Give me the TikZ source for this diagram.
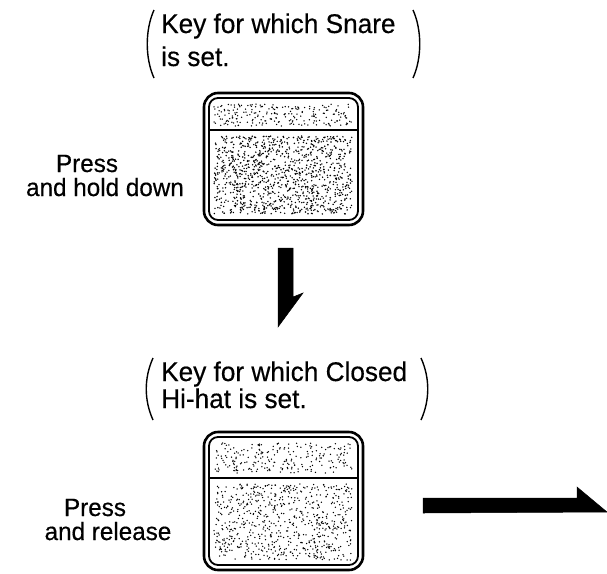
\documentclass[tikz,border=0pt]{standalone}
\usepackage{fontspec}
\setmainfont{Liberation Sans}
\newfontfamily\labelfont[FakeStretch=0.97,FakeBold=0.4]{Liberation Sans}
\newcommand\stipplebox[6]{%
  \foreach \i in {1,...,#5}{%
    \fill[black] ({#1+rnd*#3},{#2+rnd*#4}) circle (#6);
  }}
\begin{document}
\begin{tikzpicture}[x=1pt,y=-1pt,
  keyouter/.style={draw=black,line width=2.6pt,rounded corners=14pt},
  keyinner/.style={draw=black,line width=1.8pt,rounded corners=9pt},
  keytext/.style={font=\labelfont\fontsize{27}{29}\selectfont,inner sep=0pt,anchor=base west},
  presstext/.style={font=\labelfont\fontsize{25}{27}\selectfont,inner sep=0pt,anchor=base},
  paren/.style={draw=black,line width=1.4pt},
  bigarrow/.style={fill=black,draw=black,line width=0.5pt}]
\useasboundingbox (0,0) rectangle (607,573);
\pgfmathsetseed{7}
% ---- block 1 ----
\node[keytext] (k1a) at (161,33) {Key for which Snare};
\node[keytext] (k1b) at (161,66) {is set.};
\draw[paren] (154,10) .. controls (145,30) and (145,58) .. (154,78);
\draw[paren] (413,10) .. controls (422,30) and (422,58) .. (413,78);
\node[presstext] (p1a) at (87,172) {Press};
\node[presstext] (p1b) at (105,196) {and hold down};
\draw[keyouter] (204,93) rectangle (363,225);
\draw[keyinner] (209,98) rectangle (358,220);
\draw[line width=1.8pt] (209,130) -- (358,130);
\stipplebox{214}{104}{138}{22}{220}{0.75}
\stipplebox{214}{136}{138}{78}{1100}{0.8}
% down arrow
\fill[bigarrow] (278,248) -- (293,248) -- (293,297) -- (303,293) -- (278,327) -- cycle;
% ---- block 2 ----
\node[keytext] (k2a) at (161,381) {Key for which Closed};
\node[keytext] (k2b) at (161,408) {Hi-hat is set.};
\draw[paren] (153,358) .. controls (144,378) and (144,400) .. (153,420);
\draw[paren] (421,358) .. controls (430,378) and (430,400) .. (421,420);
\node[presstext] (p2a) at (95,516) {Press};
\node[presstext] (p2b) at (108,540) {and release};
\draw[keyouter] (204,432) rectangle (363,570);
\draw[keyinner] (209,437) rectangle (358,565);
\draw[line width=1.8pt] (209,478) -- (358,478);
\stipplebox{214}{443}{138}{30}{230}{0.75}
\stipplebox{214}{484}{138}{76}{700}{0.75}
% right arrow
\fill[bigarrow] (423,498) -- (577,498) -- (577,487) -- (607,512) -- (423,513) -- cycle;
\end{tikzpicture}
\end{document}
